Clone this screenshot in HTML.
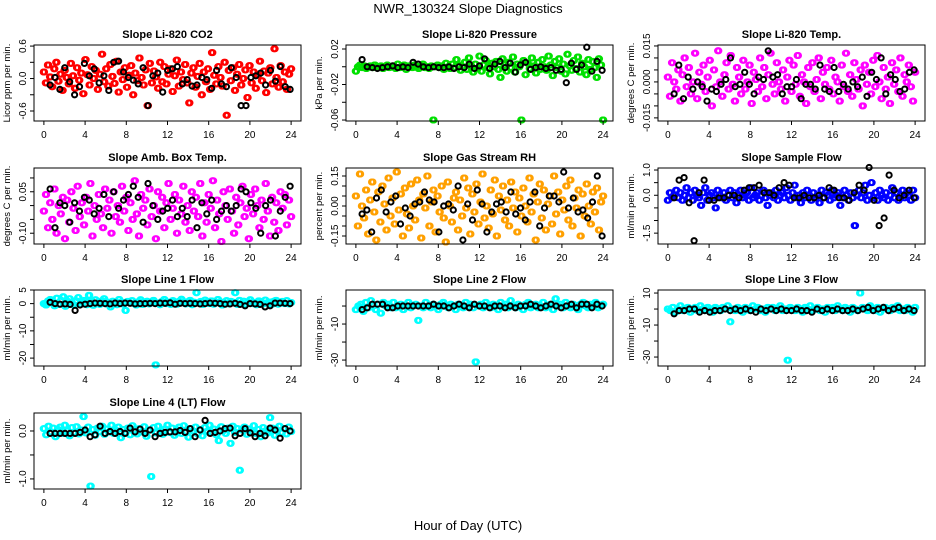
<!DOCTYPE html>
<html><head><meta charset="utf-8">
<style>
html,body{margin:0;padding:0;background:#fff;}
svg{display:block;font-family:"Liberation Sans",Arial,sans-serif;}
</style></head>
<body>
<svg id="chart" width="936" height="540" viewBox="0 0 936 540" xmlns="http://www.w3.org/2000/svg">
<text x="468" y="13" text-anchor="middle" font-size="13">NWR_130324  Slope Diagnostics</text>
<text x="468" y="530" text-anchor="middle" font-size="13">Hour of Day (UTC)</text>
</svg>
<script>
const xTicks=[0,4,8,12,16,20,24];
const titles=["Slope Li-820 CO2","Slope Li-820 Pressure","Slope Li-820 Temp.","Slope Amb. Box Temp.","Slope Gas Stream RH","Slope Sample Flow","Slope Line 1 Flow","Slope Line 2 Flow","Slope Line 3 Flow","Slope Line 4 (LT) Flow"];
const yTitles=["Licor ppm per min.","kPa per min.","degrees C per min.","degrees C per min.","percent per min.","ml/min per min.","ml/min per min.","ml/min per min.","ml/min per min.","ml/min per min."];
const colors=["#ff0000","#00e000","#ff00ff","#ff00ff","#ffa000","#0000ff","#00ffff","#00ffff","#00ffff","#00ffff"];
const yLims=[[-0.785,0.62],[-0.0611,0.0245],[-0.0163,0.0154],[-0.139,0.136],[-0.19,0.19],[-1.93,1.08],[-22.9,5.0],[-33.3,8.9],[-35.6,11.9],[-1.21,0.375]];
const yTickVals=[[-0.6,-0.3,0,0.3,0.6],[-0.06,-0.04,-0.02,0,0.02],[-0.015,-0.01,-0.005,0,0.005,0.01,0.015],[-0.1,-0.05,0,0.05,0.1],[-0.15,-0.1,-0.05,0,0.05,0.1,0.15],[-1.5,-1,-0.5,0,0.5,1],[-20,-15,-10,-5,0,5],[-30,-20,-10,0],[-30,-20,-10,0,10],[-1,-0.5,0]];
const yTickLabels=[["-0.6","","0.0","","0.6"],["-0.06","","-0.02","","0.02"],["-0.015","","","0.000","","","0.015"],["-0.10","","","0.05",""],["-0.15","","","0.00","","","0.15"],["-1.5","","","0.0","","1.0"],["-20","","-10","","0","5"],["-30","","-10",""],["-30","","-10","","10"],["-1.0","","0.0"]];
const scales=[0.01,0.001,0.001,0.01,0.01,0.1,0.1,1,1,0.01];
const colorVals0=[12,-8,25,3,-15,18,30,-5,8,-22,15,2,-10,28,5,-18,20,-3,10,-28,35,7,-12,22,0,15,-20,8,45,-6,18,-14,26,4,-9,32,-25,12,-2,20,-16,6,24,-30,10,-4,38,2,-12,16,-50,28,-8,14,3,-18,30,-6,22,-10,8,18,-24,5,34,-14,12,-2,26,-8,-45,10,20,-16,4,28,-30,12,-6,18,-20,48,6,-10,22,2,-14,30,-68,15,-4,20,-22,8,26,-12,0,16,-35,24,-8,12,-18,6,32,-4,14,-26,10,20,-10,55,2,-16,24,-6,12,-20,8,18];
const colorVals1=[-5,0,2,-1,1,-2,0,1,-1,2,0,-1,1,-2,0,2,-1,0,1,-2,3,-1,0,2,-3,1,0,-1,2,0,-2,1,3,-1,0,-2,1,-60,0,2,-1,1,-3,4,0,-2,3,-1,8,2,-4,0,5,-3,10,1,-6,3,-2,12,-5,2,7,-1,-8,4,0,6,-3,-12,9,2,-5,5,-1,11,-6,3,0,-60,7,-9,4,-2,10,1,-7,5,-3,8,0,-4,12,2,-10,6,-1,9,-5,3,-8,14,1,-4,7,-2,11,-6,4,0,-9,8,-3,6,-1,-12,9,2,-60];
const colorVals2=[2,-6,8,0,-3,5,-8,3,10,-2,6,-5,0,12,-7,4,-1,7,-4,2,9,-10,5,-2,13,0,-6,3,8,-3,11,-1,-8,6,2,-5,9,-3,0,7,-9,4,1,-4,10,-2,6,-7,3,12,-1,-5,8,0,-3,5,-8,2,9,-4,7,-1,11,-6,3,0,-9,6,-2,8,-4,1,10,-7,4,-1,6,-3,9,-5,2,0,-8,7,-2,12,-4,3,-6,8,1,-3,5,-10,7,-1,4,-5,9,-2,11,0,-7,6,-3,2,-9,8,-1,5,-4,10,-6,3,0,7,-2,-8,4];
const colorVals3=[-2,4,-8,1,-5,6,-10,0,-3,3,-12,2,-6,5,-1,-9,7,-4,1,-7,3,-2,8,-11,0,-5,4,-3,-8,6,-1,2,-10,5,-4,0,-6,7,-2,3,-9,1,-5,9,-3,-11,4,-1,2,-7,6,-4,0,-12,5,-2,3,-8,1,8,-5,-1,4,-10,2,-3,7,-6,0,-9,5,-2,3,-4,8,-11,1,-6,4,-1,9,-8,2,-3,-13,5,0,-5,6,-2,-10,3,-7,1,7,-4,-1,-12,4,-3,6,0,-8,2,-5,8,-2,-11,3,-6,1,-9,5,-1,4,-7,2,-4];
const colorVals4=[5,-10,16,0,-6,8,-14,3,12,-3,-17,7,-8,10,1,-12,14,-5,4,-9,17,-2,6,-15,9,-4,-11,11,0,-7,13,3,-16,6,-1,15,-10,2,8,-13,5,-3,10,-6,-18,12,0,-8,4,7,-12,3,-5,14,-1,9,-14,6,-3,11,-9,2,16,-6,0,-11,8,-4,13,-15,5,-2,10,-7,3,-10,12,-1,7,-13,4,-5,9,0,-8,14,-3,6,-17,2,11,-6,8,-12,1,5,-9,15,-4,7,-14,3,-2,10,-7,13,-10,4,-1,8,-15,6,-5,11,0,-9,7,-3,9,-12,2,5];
const colorVals5=[-2,1,-1,0,2,-1,1,-2,0,3,-1,1,-2,2,0,-1,-4,1,3,-2,0,1,-1,-5,2,0,-1,1,-2,0,2,-1,1,-3,0,2,-1,0,1,-2,3,-1,0,1,-2,0,2,-1,-4,0,1,-1,2,-2,0,1,-1,3,0,-2,1,4,-1,0,-3,1,-1,2,0,-2,1,-1,0,-3,2,-1,1,0,-2,2,-1,0,1,-4,-1,2,0,-2,1,-1,-12,0,2,-1,1,4,-2,0,5,-1,1,-2,2,0,-1,1,-2,0,3,-1,1,-2,0,2,-1,1,0,-2,2,-1];
const colorVals6=[0,-5,10,15,5,-8,20,-3,12,25,-10,8,18,2,-5,10,22,-2,6,12,-4,30,8,-6,14,3,-3,10,18,-1,5,-12,9,2,-4,15,6,-2,-25,8,3,11,0,-5,7,14,-3,4,9,-1,6,12,-225,2,-4,8,15,0,5,-3,11,6,-2,9,16,3,-1,7,12,-4,5,40,2,8,-3,13,6,0,10,-2,4,15,7,-5,3,11,-1,8,5,40,-3,12,2,9,-2,6,14,0,4,-4,10,7,-1,13,3,6,-3,9,12,-2,5,8,0,11,-1,4];
const colorVals7=[-2,0,1,-3,2,-1,3,0,-2,1,-4,2,0,1,-1,2,-1,0,1,-2,0,2,-1,0,1,-8,0,-1,2,0,-1,1,0,-2,1,2,0,-1,1,0,-2,1,0,-1,2,0,1,-1,-31,0,1,-1,2,0,-1,1,0,-2,2,0,1,-1,3,0,-1,1,0,-2,1,2,-1,0,1,-1,0,2,-1,0,1,-2,4,0,1,-1,2,0,-1,1,0,-2,1,2,0,-1,1,0,2,-1,0,1];
const colorVals8=[0,-1,1,-2,0,2,-1,0,1,-2,0,1,-1,2,0,-1,1,0,-2,1,0,-1,1,0,2,-8,0,-1,1,0,-2,1,0,-1,2,0,1,-1,0,-2,1,0,1,-1,0,2,-1,0,-32,1,0,-1,1,0,-2,1,0,2,-1,0,1,-1,0,-2,1,0,1,-1,2,0,-1,1,0,-2,1,0,-1,10,1,0,-1,2,0,-1,1,-2,0,1,0,-1,1,0,2,-1,0,-1,1,0,-2,1];
const colorVals9=[5,-8,10,-2,6,-12,3,8,-5,12,0,-10,7,-3,9,-6,2,30,-4,8,-115,3,-9,6,-1,10,-7,4,-2,12,-5,1,8,-14,3,-3,6,-8,11,0,-6,5,-2,9,-11,2,-95,7,-4,10,-1,-7,4,12,-3,6,-9,2,8,-5,11,-2,-13,5,0,8,-6,3,-10,7,-1,12,-4,4,-8,-20,9,1,-5,6,-26,10,-3,5,-82,2,8,-7,4,-1,11,-5,3,-12,7,0,-4,28,6,-9,2,10,-3,5,-6,8,-1];
const blackVals0=[-12,2,-20,20,-6,-30,-15,28,5,18,-8,5,-22,30,32,12,2,-3,-10,20,-50,5,10,-25,15,18,22,-10,-2,-14,-12,2,-2,-18,15,-10,-15,20,2,-50,-50,2,5,10,-12,15,-5,22,-15,-20];
const blackVals1=[8,0,-1,-2,-1,0,1,-1,0,-1,5,3,0,-1,0,-1,-1,0,-2,0,-1,3,-2,1,9,-2,3,6,-1,4,-6,2,5,-3,-1,0,-2,-1,-4,-3,-18,4,-3,2,22,-5,6,-4];
const blackVals2=[-5,7,-7,2,-3,0,-2,-8,-3,-4,-1,1,10,-2,-1,4,-1,-5,2,1,13,2,3,-5,-2,-2,1,-7,-1,-1,-3,7,-3,-4,6,-4,-1,-3,0,-2,2,-6,4,1,10,-5,3,1,-4,-3,4,5];
const blackVals3=[6,-8,1,0,-6,1,-2,3,2,-3,-1,4,-4,5,-1,2,4,7,3,-6,8,0,-5,-2,-1,2,-4,-1,-4,2,-8,1,-3,2,-5,-2,0,-2,0,6,5,1,-1,-10,0,2,-11,-2,3,7];
const blackVals4=[-4,-2,-13,4,8,-3,2,5,-9,-1,-5,1,2,7,3,2,-13,0,1,-2,10,-17,1,-7,8,1,-13,-3,1,2,-3,7,-4,-1,-7,2,7,-10,-1,5,5,2,17,-1,4,-3,-2,-6,2,15,-15];
const blackVals5=[-1,6,7,-3,-18,1,6,-2,-2,-1,-1,0,0,-1,2,3,3,4,1,1,0,3,5,4,-1,-1,0,-1,-1,0,-1,3,2,-1,-1,-2,1,4,2,11,-2,-12,-9,8,2,-1,0,2,-1];
const blackVals6=[5,0,-2,-1,-3,-25,-5,-2,0,2,1,0,-1,2,0,2,1,-1,0,0,1,0,2,1,3,-2,1,0,1,0,-1,0,2,1,0,-2,-1,1,-3,-8,0,-1,-3,-12,-8,2,2,1,0];
const blackVals7=[-2,-1,1,1,1,-1,-1,0,0,0,0,0,0,0,1,0,0,-1,0,1,0,-1,1,0,0,-1,0,0,-1,0,-1,0,0,1,0,-1,0,1,0,-1,0,1,-1,1,1,-1,1,0];
const blackVals8=[-3,-1,-1,0,0,-2,-1,-2,-1,-1,0,-1,0,-1,0,-1,-2,0,-1,0,-1,0,-1,-1,0,-1,-1,-2,0,-1,0,-1,0,-1,-1,0,-1,0,1,-1,0,1,-1,0,1,-1,0,-1];
const blackVals9=[-5,-5,-5,-5,-5,-5,-3,2,-12,-8,10,-5,-1,-5,-1,-5,6,-2,4,-5,2,-12,-5,-3,-2,-2,1,-3,5,-12,2,22,-5,-3,0,5,6,-10,-5,5,-4,-12,-5,-10,6,2,-15,5,0];
const colorSeries=[colorVals0,colorVals1,colorVals2,colorVals3,colorVals4,colorVals5,colorVals6,colorVals7,colorVals8,colorVals9];
const blackSeries=[blackVals0,blackVals1,blackVals2,blackVals3,blackVals4,blackVals5,blackVals6,blackVals7,blackVals8,blackVals9];

const NS="http://www.w3.org/2000/svg";
const svg=document.getElementById('chart');
function mk(tag,attrs,parent){const e=document.createElementNS(NS,tag);for(const k in attrs)e.setAttribute(k,attrs[k]);(parent||svg).appendChild(e);return e;}
const BOX_W=267,BOX_H=76;
const colLeft=[34,346,658];
const rowTop=[45,168,290,413];
const XMIN=-0.96,XMAX=24.96;
const smear=[-0.07,0,0.07];

for(let p=0;p<10;p++){
  const left=colLeft[p%3],top=rowTop[Math.floor(p/3)];
  const g=mk('g',{});
  
  
  const xs=v=>left+(v-XMIN)/(XMAX-XMIN)*BOX_W;
  const [y0,y1]=yLims[p];
  const ys=v=>top+BOX_H-(v-y0)/(y1-y0)*BOX_H;
  const t=mk('text',{x:left+BOX_W/2,y:top-7,'text-anchor':'middle','font-size':'11','font-weight':'bold'},g);
  t.textContent=titles[p];
  
  
  const yt=mk('text',{transform:`translate(${left-24},${top+BOX_H/2}) rotate(-90)`,'text-anchor':'middle','font-size':'9.5'},g);
  yt.textContent=yTitles[p];
  
  
  const pts=mk('g',{fill:'none','stroke-width':'1.8'},g);
  
  
  const cv=colorSeries[p],sc=scales[p];
  cv.forEach((v,i)=>{
    const hx=i*24/(cv.length-1);
    smear.forEach(d=>{
      const c=mk('circle',{cx:xs(hx+d).toFixed(1),cy:ys(v*sc).toFixed(1),r:'2.6',stroke:colors[p]},pts);
      
      
    });
  });
  const bv=blackSeries[p];
  bv.forEach((v,i)=>{
    const hx=0.6+i*23.3/(bv.length-1);
    const c=mk('circle',{cx:xs(hx).toFixed(1),cy:ys(v*sc).toFixed(1),r:'2.6',stroke:'#000','stroke-width':'2'},pts);
    
    
  });
  const b=mk('rect',{x:left,y:top,width:BOX_W,height:BOX_H,fill:'none',stroke:'#000','stroke-width':'1'},g);
  
  
  xTicks.forEach(v=>{
    const x=xs(v);
    mk('line',{x1:x,x2:x,y1:top+BOX_H,y2:top+BOX_H+4,stroke:'#000'},g);
    const l=mk('text',{x:x,y:top+BOX_H+17,'text-anchor':'middle','font-size':'10'},g);
    l.textContent=v;
    
    
  });
  yTickVals[p].forEach((v,i)=>{
    const y=ys(v);
    mk('line',{x1:left-4,x2:left,y1:y,y2:y,stroke:'#000'},g);
    const lab=yTickLabels[p][i];
    if(lab){
      const l=mk('text',{transform:`translate(${left-8},${y}) rotate(-90)`,'text-anchor':'middle','font-size':'10'},g);
      l.textContent=lab;
      
      
    }
  });
}
</script>
</body></html>
